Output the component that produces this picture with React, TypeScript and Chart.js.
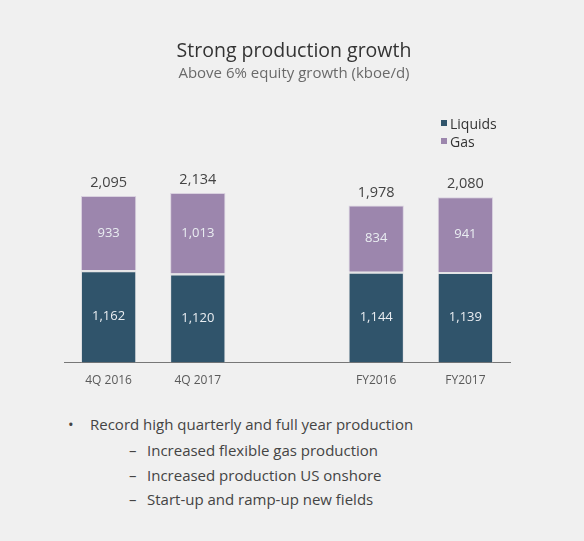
import React, { useEffect, useRef } from "react";
import { Chart, registerables } from "chart.js";

Chart.register(...registerables);

const title = "Strong production growth";
const subtitle = "Above 6% equity growth (kboe/d)";
const categories = ["4Q 2016", "4Q 2017", "", "FY2016", "FY2017"];
const liquids = [1162, 1120, null, 1144, 1139];
const gas = [933, 1013, null, 834, 941];
const totals = [2095, 2134, null, 1978, 2080];
const seriesNames = ["Liquids", "Gas"];
const seriesColors = ["#30546b", "#9c86ad"];
const bulletMain = "Record high quarterly and full year production";
const bulletSubs = [
  "Increased flexible gas production",
  "Increased production US onshore",
  "Start-up and ramp-up new fields",
];

const FONT = "'Open Sans', 'Noto Sans', sans-serif";
const fmt = (v: number) => v.toLocaleString("en-US");

const labelPlugin = {
  id: "barLabels",
  afterDatasetsDraw(chart: any) {
    const ctx = chart.ctx;
    ctx.save();
    ctx.textAlign = "center";
    ctx.textBaseline = "middle";
    chart.data.datasets.forEach((ds: any, di: number) => {
      const meta = chart.getDatasetMeta(di);
      meta.data.forEach((bar: any, i: number) => {
        const v = ds.data[i];
        if (v == null) return;
        const p = bar.getProps(["x", "y", "base"], true);
        ctx.fillStyle = "#e9edf1";
        ctx.font = `13px ${FONT}`;
        ctx.fillText(fmt(v), p.x, (p.y + p.base) / 2);
      });
    });
    const topMeta = chart.getDatasetMeta(chart.data.datasets.length - 1);
    topMeta.data.forEach((bar: any, i: number) => {
      const t = totals[i];
      if (t == null) return;
      const p = bar.getProps(["x", "y"], true);
      ctx.fillStyle = "#444444";
      ctx.font = `14.5px ${FONT}`;
      ctx.fillText(fmt(t), p.x, p.y - 13);
    });
    ctx.restore();
  },
};

export default function App() {
  const ref = useRef<HTMLCanvasElement | null>(null);

  useEffect(() => {
    if (!ref.current) return;
    const chart = new Chart(ref.current, {
      type: "bar",
      data: {
        labels: categories,
        datasets: [
          {
            label: seriesNames[0],
            data: liquids,
            backgroundColor: seriesColors[0],
            borderColor: "#e4e4e6",
            borderWidth: { top: 2, left: 1, right: 1, bottom: 0 },
            borderSkipped: false,
          },
          {
            label: seriesNames[1],
            data: gas,
            backgroundColor: seriesColors[1],
            borderColor: "#d9d1df",
            borderWidth: { top: 1, left: 1, right: 1, bottom: 0 },
            borderSkipped: false,
          },
        ],
      },
      options: {
        responsive: false,
        animation: false,
        layout: { padding: { left: 64, right: 74, top: 125, bottom: 9 } },
        datasets: { bar: { categoryPercentage: 0.62, barPercentage: 1 } },
        plugins: {
          legend: { display: false },
          tooltip: { enabled: false },
        },
        scales: {
          x: {
            stacked: true,
            grid: { display: false, drawTicks: false },
            border: { display: true, color: "#777777", width: 1 },
            ticks: { color: "#5a5a5a", font: { family: FONT, size: 12 }, padding: 11 },
          },
          y: {
            stacked: true,
            display: false,
            min: 0,
            max: 2990,
          },
        },
      },
      plugins: [labelPlugin],
    });
    return () => chart.destroy();
  }, []);

  const textStyle: React.CSSProperties = {
    position: "absolute",
    fontFamily: FONT,
    color: "#444444",
    fontSize: 15,
    lineHeight: "20px",
    whiteSpace: "nowrap",
  };

  return (
    <div
      style={{
        position: "fixed",
        left: 0,
        top: 0,
        width: 584,
        height: 541,
        background: "#f0f0f0",
        overflow: "hidden",
      }}
    >
      <canvas
        ref={ref}
        width={584}
        height={408}
        style={{ position: "absolute", left: 0, top: 0, width: 584, height: 408 }}
      />
      <div
        style={{
          position: "absolute",
          left: 0,
          width: 588,
          top: 38,
          textAlign: "center",
          fontFamily: FONT,
          fontSize: 19.5,
          fontWeight: 500,
          lineHeight: "24px",
          color: "#333333",
        }}
      >
        {title}
      </div>
      <div
        style={{
          position: "absolute",
          left: 0,
          width: 588,
          top: 63,
          textAlign: "center",
          fontFamily: FONT,
          fontSize: 15,
          lineHeight: "18px",
          color: "#6a6a6a",
        }}
      >
        {subtitle}
      </div>
      {seriesNames.map((n, i) => (
        <div
          key={n}
          style={{
            position: "absolute",
            left: 441,
            top: 114 + i * 18,
            height: 18,
            display: "flex",
            alignItems: "center",
            fontFamily: FONT,
            fontSize: 14,
            color: "#333333",
          }}
        >
          <span
            style={{
              display: "inline-block",
              width: 6,
              height: 6,
              background: seriesColors[i],
              marginRight: 3,
            }}
          />
          {n}
        </div>
      ))}
      <div style={{ ...textStyle, left: 68, top: 414 }}>•</div>
      <div style={{ ...textStyle, left: 90, top: 414 }}>{bulletMain}</div>
      {bulletSubs.map((s, i) => (
        <React.Fragment key={s}>
          <div style={{ ...textStyle, left: 129, top: 440 + i * 24.5 }}>–</div>
          <div style={{ ...textStyle, left: 147, top: 440 + i * 24.5 }}>{s}</div>
        </React.Fragment>
      ))}
    </div>
  );
}
